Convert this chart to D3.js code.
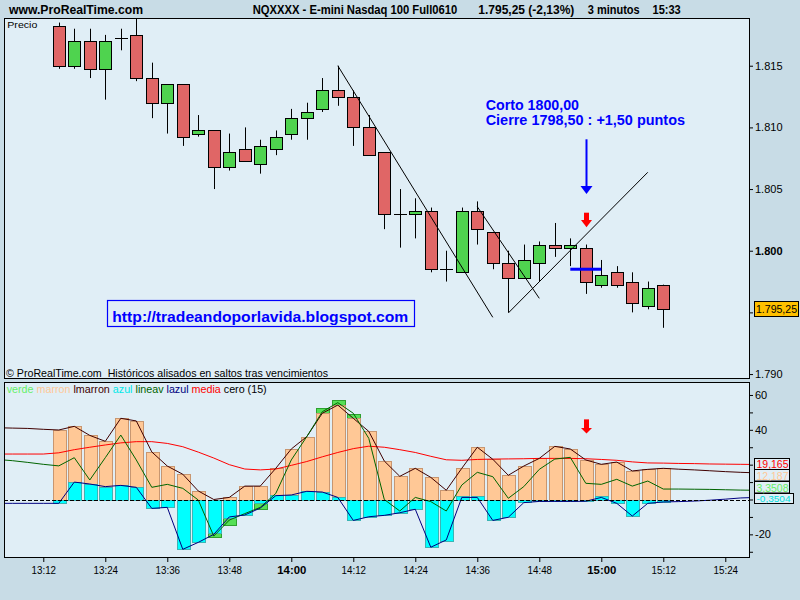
<!DOCTYPE html>
<html><head><meta charset="utf-8">
<script src="https://cdn.jsdelivr.net/npm/d3@7"></script>
<style>
html,body{margin:0;padding:0;background:#c8dce6;}
svg{display:block;}
text{font-family:"Liberation Sans",Arial,sans-serif;}
</style></head><body>
<svg id="chart" width="800" height="600"></svg>
<script>
// ---------- DATA ----------
const times = ["13:15","13:18","13:21","13:24","13:27","13:30","13:33","13:36","13:39","13:42",
  "13:45","13:48","13:51","13:54","13:57","14:00","14:03","14:06","14:09","14:12",
  "14:15","14:18","14:21","14:24","14:27","14:30","14:33","14:36","14:39","14:42",
  "14:45","14:48","14:51","14:54","14:57","15:00","15:03","15:06","15:09","15:12"];
const open  = [1818.25,1815.0,1817.0,1814.75,1817.25,1817.5,1814.0,1812.0,1813.5,1809.5,
  1809.75,1806.75,1808.25,1807.0,1808.25,1809.5,1810.75,1811.5,1813.0,1812.5,
  1810.0,1808.0,1803.0,1803.0,1803.25,1798.5,1798.25,1803.25,1801.5,1799.0,
  1797.75,1799.0,1800.5,1800.25,1800.25,1797.25,1798.25,1797.5,1795.5,1797.25];
const high  = [1818.5,1818.0,1818.0,1817.5,1818.0,1819.0,1815.25,1813.5,1813.5,1811.0,
  1809.75,1809.5,1810.0,1809.0,1809.75,1811.5,1812.0,1814.0,1815.0,1813.0,
  1811.0,1808.0,1805.0,1804.25,1803.5,1800.0,1803.5,1804.0,1801.5,1800.0,
  1800.5,1800.75,1802.25,1801.0,1800.5,1799.25,1798.75,1798.25,1797.5,1797.25];
const low   = [1814.75,1814.75,1814.0,1812.25,1816.25,1813.75,1810.75,1809.5,1808.5,1809.25,
  1805.0,1806.5,1807.25,1806.25,1807.75,1809.0,1809.0,1811.25,1811.75,1808.5,
  1807.75,1801.75,1800.25,1801.0,1798.25,1797.5,1798.25,1800.5,1798.5,1795.0,
  1797.75,1797.5,1799.5,1798.75,1796.5,1797.0,1797.0,1795.0,1795.25,1793.75];
const close = [1815.0,1817.0,1814.75,1817.0,1817.25,1814.0,1812.0,1813.5,1809.25,1809.75,
  1806.75,1808.0,1807.25,1808.5,1809.25,1810.75,1811.25,1813.0,1812.5,1810.0,
  1807.75,1803.0,1803.0,1803.25,1798.5,1798.5,1803.25,1801.75,1799.0,1797.75,
  1799.25,1800.5,1800.25,1800.5,1797.5,1798.0,1797.25,1795.75,1797.0,1795.25];

// indicator histograms (one value per candle)
const marron = [39.9,42.0,36.8,33.4,46.6,45.1,27.3,19.2,14.5,4.9,
  0,1.2,7.7,7.7,17.9,29.0,36.1,49.5,54.2,46.6,
  39.1,22.1,13.3,17.9,12.7,5.3,17.9,30.0,23.1,13.9,
  19.2,23.6,30.5,29.0,22.7,20.2,21.5,16.4,17.3,17.9];
const azul = [-2.2,10.0,8.9,7.4,8.1,7.0,-5.1,-4.5,-28.6,-24.6,
  -19.5,-10.8,-9.1,-2.0,2.6,2.6,4.7,4.2,1.2,-12.0,
  -9.9,-9.1,-7.9,-5.6,-27.4,-23.8,1.8,1.8,-12.0,-10.2,
  -1.4,-1.1,-1.1,-1.1,-1.1,1.8,-2.2,-9.6,-2.2,-1.4];
const verde = [null,null,null,null,null,null,null,null,null,null,
  -21.8,-14.5,null,-5.6,null,null,null,52.3,56.9,49.1,
  null,null,null,null,null,null,null,null,null,null,
  null,null,null,null,null,null,null,null,null,null];

// indicator lines, one value every 3 minutes starting at 13:03
const lineStart = "13:03";
const lmarronLine = [41.2,41.0,40.8,40.3,39.9,42.0,36.8,33.4,46.6,45.1,27.3,19.2,14.5,4.9,
  0,1.2,7.7,7.7,17.9,29.0,36.1,49.5,54.2,46.6,39.1,22.1,13.3,17.9,12.7,5.3,17.9,30.0,23.1,13.9,
  19.2,23.6,30.5,29.0,22.7,20.2,21.5,16.4,17.3,17.9,17.4,17.0,16.5,16.0,15.6,15.3];
const lineavLine = [23.0,22.3,21.3,20.2,19.3,24.0,11.2,24.0,37.0,22.7,7.0,8.7,6.4,-0.3,
  -21.0,-11.8,-8.1,-4.5,3.5,22.7,36.1,50.4,55.6,49.5,35.1,0.0,-6.6,1.2,-1.2,-6.6,8.3,15.6,13.1,0.7,
  7.4,17.3,23.2,24.2,9.3,8.7,11.6,7.7,10.6,6.0,6.0,5.9,5.8,5.6,5.4,5.3];
const lazulLine = [-2.2,-2.2,-2.2,-2.2,-2.2,10.0,8.9,7.4,8.1,7.0,-5.1,-4.5,-28.6,-24.6,
  -20.0,-10.0,-8.9,-4.9,2.2,2.6,4.7,4.3,1.2,-12.0,-9.9,-9.1,-7.6,-5.6,-27.4,-23.2,1.2,1.2,-12.0,-10.2,
  -1.8,-1.1,-1.1,-1.1,-1.0,1.2,-2.2,-9.5,-2.2,-1.4,-1.2,-0.9,-0.4,0.2,0.9,1.2];
const mediaLine = [26.1,26.1,26.1,26.1,26.8,28.6,30.0,31.3,32.5,33.2,33.2,32.2,30.3,27.2,
  23.8,20.0,17.5,17.0,17.5,19.6,21.8,24.5,27.0,29.2,30.6,30.0,28.6,27.0,24.8,22.8,22.5,23.0,23.2,23.3,
  23.4,23.6,23.6,23.6,23.4,23.0,22.5,21.6,21.0,20.9,20.7,20.6,20.4,20.3,20.2,20.1];

const trendLines = [
  [["14:09",1815.0],["14:39",1794.6]],
  [["14:36",1803.57],["14:48",1796.14]],
  [["14:42",1794.95],["15:09",1806.36]]
];
const priceTicks = [1790,1795,1800,1805,1810,1815];
const priceLabeled = [1790,1800,1805,1810,1815];
const indTicks = [-30,-20,-10,0,10,20,30,40,50,60];
const indLabeled = [60,40,-20];
const timeTicks = ["13:12","13:24","13:36","13:48","14:00","14:12","14:24","14:36","14:48","15:00","15:12","15:24"];
const boldTimes = ["14:00","15:00"];
const lastValues = {media:"19,165", marron:"12,187", lineav:"3,3508", lazul:"-0,3504"};
const lastPrice = 1795.25;
const tradeTime = "14:57";
const exitPrice = 1798.5;

(function(){
// ---------- SCALES ----------
const BG = "#c8dce6", PLOT = "#e0eef6";
const toMin = t => { const [h,m] = t.split(":").map(Number); return h*60+m; };
const slot = t => (toMin(t) - toMin("13:12"))/3;
const x = d3.scaleLinear().domain([-2.535, 45.53]).range([4, 749]);
const yP = d3.scaleLinear().domain([1789.68, 1818.87]).range([378, 18]);
const yI = d3.scaleLinear().domain([-33.0, 67.45]).range([557, 382]);

const svg = d3.select("#chart");
svg.append("rect").attr("width",800).attr("height",600).attr("fill",BG);

// header (condensed bold look: smaller font stretched vertically)
function hdr(txt, x0, len, fs){
  svg.append("text").attr("transform",`translate(${x0},14) scale(1,1.2)`)
    .attr("font-size",fs).attr("font-weight","bold")
    .attr("textLength",len).attr("lengthAdjust","spacingAndGlyphs")
    .attr("fill","#000").text(txt);
}
hdr("www.ProRealTime.com", 9, 134, 11);
hdr("NQXXXX - E-mini Nasdaq 100 Full0610", 252.7, 204.6, 10.5);
hdr("1.795,25 (-2,13%)", 478.3, 96, 10.5);
hdr("3 minutos", 587.7, 52, 10.5);
hdr("15:33", 652.5, 28.2, 10.5);

// panels
const defs = svg.append("defs");
defs.append("clipPath").attr("id","clipTop").append("rect").attr("x",5).attr("y",19).attr("width",744).attr("height",359);
defs.append("clipPath").attr("id","clipBot").append("rect").attr("x",5).attr("y",383).attr("width",744).attr("height",174);
svg.append("rect").attr("x",4.5).attr("y",18.5).attr("width",745).attr("height",360).attr("fill",PLOT).attr("stroke","#000");
svg.append("rect").attr("x",4.5).attr("y",382.5).attr("width",745).attr("height",175).attr("fill",PLOT).attr("stroke","#000");

// ---------- TOP PANEL ----------
const topG = svg.append("g").attr("clip-path","url(#clipTop)");
const candles = times.map((t,i)=>({t, o:open[i], h:high[i], l:low[i], c:close[i]}));
const cg = topG.selectAll("g.candle").data(candles).join("g");
cg.append("line")
  .attr("x1",d=>Math.round(x(slot(d.t)))+0.5).attr("x2",d=>Math.round(x(slot(d.t)))+0.5)
  .attr("y1",d=>yP(d.h)).attr("y2",d=>yP(d.l)).attr("stroke","#000").attr("stroke-width",1);
cg.filter(d=>d.o!==d.c).append("rect")
  .attr("x",d=>Math.round(x(slot(d.t)))-5.5).attr("width",12)
  .attr("y",d=>Math.round(yP(Math.max(d.o,d.c)))+0.5)
  .attr("height",d=>Math.max(1,Math.round(yP(Math.min(d.o,d.c)))-Math.round(yP(Math.max(d.o,d.c)))))
  .attr("fill",d=>d.c>d.o?"#4fd34f":"#e06666").attr("stroke","#000").attr("stroke-width",1);
cg.filter(d=>d.o===d.c).append("line")
  .attr("x1",d=>Math.round(x(slot(d.t)))-6).attr("x2",d=>Math.round(x(slot(d.t)))+7)
  .attr("y1",d=>Math.round(yP(d.o))+0.5).attr("y2",d=>Math.round(yP(d.o))+0.5)
  .attr("stroke","#000").attr("stroke-width",1);

topG.selectAll("line.trend").data(trendLines).join("line").attr("class","trend")
  .attr("x1",d=>x(slot(d[0][0]))).attr("y1",d=>yP(d[0][1]))
  .attr("x2",d=>x(slot(d[1][0]))).attr("y2",d=>yP(d[1][1]))
  .attr("stroke","#000").attr("stroke-width",1);

// trade annotations
const ax = Math.round(x(slot(tradeTime)))+0.5;
topG.append("line").attr("x1",ax).attr("x2",ax).attr("y1",139.3).attr("y2",187).attr("stroke","#0000ff").attr("stroke-width",2);
topG.append("path").attr("d",`M${ax-6},186 L${ax+6},186 L${ax},194 Z`).attr("fill","#0000ff");
topG.append("rect").attr("x",ax-2.5).attr("y",212.7).attr("width",5).attr("height",8).attr("fill","#ff0000");
topG.append("path").attr("d",`M${ax-5.5},220 L${ax+5.5},220 L${ax},227.3 Z`).attr("fill","#ff0000");
topG.append("line").attr("x1",x(slot("14:54"))).attr("x2",x(slot("15:00")))
  .attr("y1",yP(exitPrice)).attr("y2",yP(exitPrice)).attr("stroke","#0000ff").attr("stroke-width",3);

svg.append("text").attr("x",485.7).attr("y",110).attr("font-size",14).attr("font-weight","bold")
  .attr("fill","#0000ff").attr("textLength",93.3).attr("lengthAdjust","spacingAndGlyphs").text("Corto 1800,00");
svg.append("text").attr("x",485.7).attr("y",124.7).attr("font-size",14).attr("font-weight","bold")
  .attr("fill","#0000ff").attr("textLength",199.3).attr("lengthAdjust","spacingAndGlyphs").text("Cierre 1798,50 : +1,50 puntos");

svg.append("rect").attr("x",107.5).attr("y",300.5).attr("width",307).attr("height",26)
  .attr("fill","none").attr("stroke","#0000ff").attr("stroke-width",1.2);
svg.append("text").attr("x",112.3).attr("y",322).attr("font-size",15.5).attr("font-weight","bold")
  .attr("fill","#0000ff").attr("textLength",296).attr("lengthAdjust","spacingAndGlyphs")
  .text("http://tradeandoporlavida.blogspot.com");

svg.append("text").attr("x",7.3).attr("y",28.3).attr("font-size",9.5).attr("fill","#000")
  .attr("textLength",30).attr("lengthAdjust","spacingAndGlyphs").text("Precio");
svg.append("text").attr("x",6).attr("y",376.5).attr("font-size",11).attr("fill","#000")
  .attr("textLength",322).attr("lengthAdjust","spacingAndGlyphs")
  .text("\u00A9 ProRealTime.com  Hist\u00F3ricos alisados en saltos tras vencimientos").style("white-space","pre");

// price axis
const pAxis = svg.append("g").attr("transform","translate(749,0)")
  .call(d3.axisRight(yP).tickValues(priceTicks).tickSize(4).tickSizeOuter(0).tickPadding(2)
    .tickFormat(d=>priceLabeled.includes(d)?"1."+String(d).slice(1):""));
pAxis.select(".domain").remove();
pAxis.selectAll("text").attr("font-size",11).style("font-family",'"Liberation Sans",Arial,sans-serif')
  .attr("fill","#000").attr("font-weight",d=>d===1800?"bold":"normal");
pAxis.selectAll("line").attr("stroke","#000");
svg.append("rect").attr("x",754.5).attr("y",Math.round(yP(lastPrice))-7.5).attr("width",44).attr("height",15)
  .attr("fill","#ffc000").attr("stroke","#000");
svg.append("text").attr("x",756).attr("y",Math.round(yP(lastPrice))+4).attr("font-size",11).attr("fill","#000")
  .attr("textLength",41).attr("lengthAdjust","spacingAndGlyphs").text("1.795,25");

// ---------- BOTTOM PANEL ----------
const botG = svg.append("g").attr("clip-path","url(#clipBot)");
const bw = 13;
const bx = t => Math.round(x(slot(t))) - 6 + 0.5;
const barRect = (g, vals, fill, stroke) => g.selectAll(null)
  .data(times.map((t,i)=>({t, v:vals[i]})).filter(d=>d.v!==null && d.v!==0))
  .join("rect")
  .attr("x",d=>bx(d.t)).attr("width",bw)
  .attr("y",d=>Math.round(yI(Math.max(0,d.v)))+0.5)
  .attr("height",d=>Math.max(1,Math.abs(Math.round(yI(d.v))-Math.round(yI(0)))))
  .attr("fill",fill).attr("stroke",stroke).attr("stroke-width",1);
barRect(botG.append("g"), verde, "#55e055", "#2ea02e");
barRect(botG.append("g"), marron, "#ffc896", "#c89670");
barRect(botG.append("g"), azul, "#00ffff", "#3cb4b4");

const lineX = i => x(slot(lineStart) + i);
const mkLine = (vals, color) => botG.append("path")
  .attr("d", d3.line().x((d,i)=>lineX(i)).y(d=>yI(d))(vals))
  .attr("fill","none").attr("stroke",color).attr("stroke-width",1);
mkLine(mediaLine, "#ff0000");
mkLine(lmarronLine, "#400000");
mkLine(lineavLine, "#006400");
mkLine(lazulLine, "#000080");
botG.append("line").attr("x1",4).attr("x2",749).attr("y1",Math.round(yI(0))+0.5).attr("y2",Math.round(yI(0))+0.5)
  .attr("stroke","#000").attr("stroke-dasharray","4,2");

// bottom red arrow
botG.append("rect").attr("x",ax-2.5).attr("y",yI(46)).attr("width",5).attr("height",yI(41)-yI(46)+0.5).attr("fill","#ff0000");
botG.append("path").attr("d",`M${ax-5.5},${yI(41)} L${ax+5.5},${yI(41)} L${ax},${yI(37.9)} Z`).attr("fill","#ff0000");

// legend
const legend = svg.append("text").attr("x",6.7).attr("y",392.5).attr("font-size",11)
  .attr("textLength",260).attr("lengthAdjust","spacingAndGlyphs").style("white-space","pre");
[["verde","#66ee66"],["marron","#ffc896"],["lmarron","#400000"],["azul","#00e8e8"],["lineav","#006400"],
 ["lazul","#000080"],["media","#ff0000"],["cero (15)","#000"]].forEach(([t,c],i)=>{
  legend.append("tspan").attr("fill",c).text((i?" ":"")+t);
});

// indicator axis
const iAxis = svg.append("g").attr("transform","translate(749,0)")
  .call(d3.axisRight(yI).tickValues(indTicks).tickSize(4).tickSizeOuter(0).tickPadding(2)
    .tickFormat(d=>indLabeled.includes(d)?String(d):""));
iAxis.select(".domain").remove();
iAxis.selectAll("text").attr("font-size",11).style("font-family",'"Liberation Sans",Arial,sans-serif').attr("fill","#000");
iAxis.selectAll("line").attr("stroke","#000");

// last-value boxes
function valBox(y0, h, w, txt, col, fs, len){
  svg.append("rect").attr("x",754.5).attr("y",y0).attr("width",w).attr("height",h).attr("fill",PLOT).attr("stroke","#000");
  svg.append("text").attr("x",756.5).attr("y",y0+h-1.5).attr("font-size",fs).attr("fill",col)
    .attr("textLength",len).attr("lengthAdjust","spacingAndGlyphs").text(txt);
}
valBox(493.5, 10, 39, lastValues.lazul, "#00e0e0", 9.5, 34);
valBox(458.5, 11, 35, lastValues.media, "#ff0000", 11, 32);
valBox(469.5, 11.5, 35, lastValues.marron, "#ffc896", 11, 32);
valBox(481.5, 11.5, 35, lastValues.lineav, "#66ee66", 11, 32);

// time axis
const tAxis = svg.append("g").attr("transform","translate(0,557)")
  .call(d3.axisBottom(x).tickValues(timeTicks.map(slot)).tickSize(5).tickSizeOuter(0).tickPadding(4)
    .tickFormat((d,i)=>timeTicks[i]));
tAxis.select(".domain").remove();
tAxis.selectAll("line").attr("stroke","#000");
tAxis.selectAll("text").attr("font-size",11).style("font-family",'"Liberation Sans",Arial,sans-serif').attr("fill","#000")
  .attr("font-weight",(d,i)=>boldTimes.includes(timeTicks[i])?"bold":"normal")
  .attr("textLength",(d,i)=>boldTimes.includes(timeTicks[i])?29:24.5).attr("lengthAdjust","spacingAndGlyphs");
})();
</script>
</body></html>
